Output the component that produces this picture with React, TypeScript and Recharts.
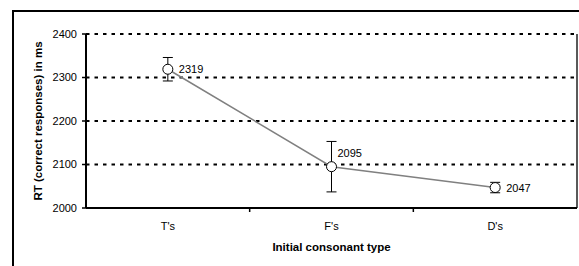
import React from 'react';
import {
  LineChart,
  Line,
  XAxis,
  YAxis,
  CartesianGrid,
  ErrorBar,
  LabelList,
  ReferenceLine,
} from 'recharts';

const categories = ["T's", "F's", "D's"];
const meanRT = [2319, 2095, 2047];
const errorRT = [27, 58, 12];
const yTicks = [2000, 2100, 2200, 2300, 2400];
const xTitle = 'Initial consonant type';
const yTitle = 'RT (correct responses) in ms';

const data = categories.map((c, i) => ({
  pos: i + 0.5,
  name: c,
  rt: meanRT[i],
  err: errorRT[i],
}));

const xTickValues: number[] = [];
categories.forEach((_, i) => {
  xTickValues.push(i + 0.5);
  if (i < categories.length - 1) xTickValues.push(i + 1);
});

const FONT = '"Liberation Sans", Arial, sans-serif';

const XTick = (props: any) => {
  const { x, y, payload } = props;
  const v = payload.value;
  if (Number.isInteger(v)) {
    return <line x1={x} x2={x} y1={y} y2={y + 4} stroke="#000" strokeWidth={1.5} />;
  }
  return (
    <text x={x} y={y + 22} textAnchor="middle" fontSize={11} fontFamily={FONT} fill="#000">
      {categories[Math.floor(v)]}
    </text>
  );
};

const YTitle = (props: any) => {
  const vb = props.viewBox || { x: 0, y: 34, width: 86, height: 174 };
  const cx = vb.x + 38;
  const cy = vb.y + vb.height / 2;
  return (
    <text
      x={cx}
      y={cy}
      transform={`rotate(-90, ${cx}, ${cy})`}
      textAnchor="middle"
      dominantBaseline="central"
      fontSize={11.5}
      fontWeight="bold"
      fontFamily={FONT}
      fill="#000"
    >
      {yTitle}
    </text>
  );
};

const XTitle = (props: any) => {
  const vb = props.viewBox || { x: 86, y: 208, width: 491, height: 58 };
  return (
    <text
      x={vb.x + vb.width / 2}
      y={vb.y + 43}
      textAnchor="middle"
      fontSize={11.5}
      fontWeight="bold"
      fontFamily={FONT}
      fill="#000"
    >
      {xTitle}
    </text>
  );
};

const ValueLabel = (props: any) => {
  const { x, y, value, index } = props;
  const dx = index === 1 ? 6 : 11;
  const dy = index === 1 ? -14 : 0;
  return (
    <text x={x + dx} y={y + dy + 4} fontSize={11} fontFamily={FONT} fill="#000">
      {value}
    </text>
  );
};

const axisShape = (w: number, color: string) => (p: any) => (
  <line x1={p.x1} y1={p.y1} x2={p.x2} y2={p.y2} stroke={color} strokeWidth={w} />
);

export default function App() {
  return (
    <div
      style={{
        position: 'absolute',
        left: 0,
        top: 0,
        width: 579,
        height: 266,
        overflow: 'hidden',
        background: '#fff',
      }}
    >
      <div
        style={{
          position: 'absolute',
          left: 12,
          top: 10,
          width: 700,
          height: 400,
          border: '2px solid #000',
        }}
      />
      <div style={{ position: 'absolute', left: 0, top: 0 }}>
        <LineChart
          width={579}
          height={266}
          data={data}
          margin={{ top: 34, right: 2, bottom: 0, left: 0 }}
        >
          <CartesianGrid
            horizontal
            vertical={false}
            stroke="#000"
            strokeWidth={2}
            strokeDasharray="3.5 5"
          />
          <XAxis
            dataKey="pos"
            type="number"
            domain={[0, 3]}
            ticks={xTickValues}
            interval={0}
            height={58}
            stroke="#000"
            tickLine={false}
            tickSize={0}
            tickMargin={0}
            axisLine={false}
            tick={<XTick />}
            label={<XTitle />}
          />
          <YAxis
            width={86}
            domain={[2000, 2400]}
            ticks={yTicks}
            interval={0}
            stroke="#000"
            tickSize={4}
            tickMargin={5}
            axisLine={false}
            tickLine={{ stroke: '#000', strokeWidth: 1.5 }}
            tick={{ fontSize: 11, fill: '#000', fontFamily: FONT }}
            label={<YTitle />}
          />
          <ReferenceLine x={3} shape={axisShape(1.5, '#222')} />
          <ReferenceLine x={0} shape={axisShape(2, '#000')} />
          <ReferenceLine y={2000} shape={axisShape(2, '#000')} />
          <Line
            dataKey="rt"
            type="linear"
            stroke="#808080"
            strokeWidth={1.5}
            isAnimationActive={false}
            dot={{ r: 5, fill: '#fff', stroke: '#000', strokeWidth: 1 }}
            activeDot={false}
          >
            <ErrorBar dataKey="err" width={5} stroke="#000" strokeWidth={1} direction="y" />
            <LabelList dataKey="rt" content={<ValueLabel />} />
          </Line>
        </LineChart>
      </div>
    </div>
  );
}
